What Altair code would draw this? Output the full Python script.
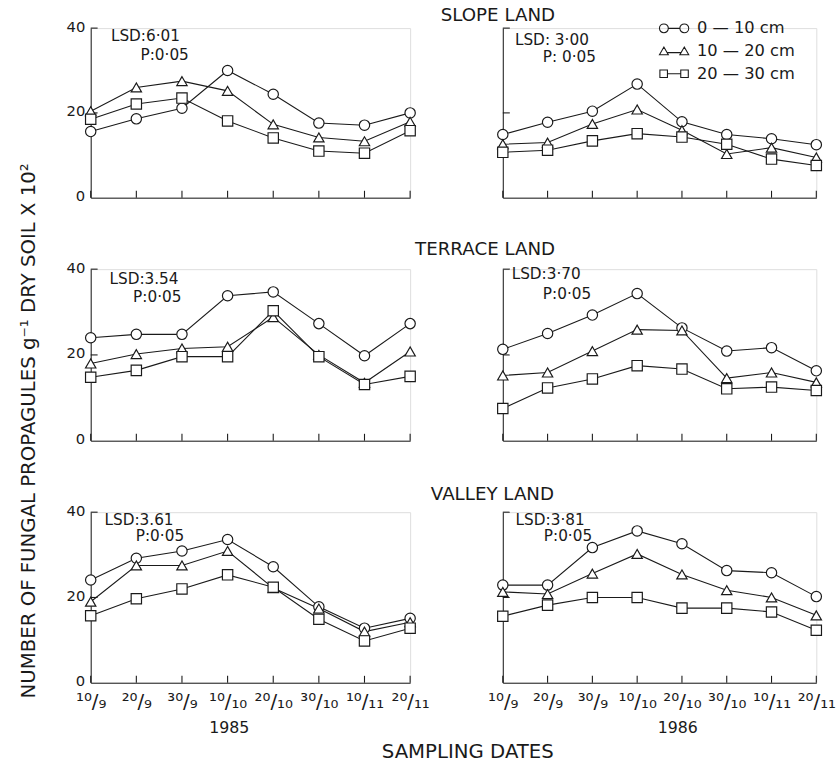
import altair as alt
import pandas as pd

# ---------------- data ----------------
dates = ["10/9", "20/9", "30/9", "10/10", "20/10", "30/10", "10/11", "20/11"]
date_labels = ["¹⁰/₉", "²⁰/₉", "³⁰/₉", "¹⁰/₁₀", "²⁰/₁₀", "³⁰/₁₀", "¹⁰/₁₁", "²⁰/₁₁"]
depths = ["0 — 10 cm", "10 — 20 cm", "20 — 30 cm"]
y_tick_values = [0, 20, 40]
inner_tick_values = [20, 40]

slope85_0_10 = [15.6, 18.6, 21.1, 30.0, 24.4, 17.6, 17.1, 20.0]
slope85_10_20 = [20.4, 26.0, 27.5, 25.2, 17.3, 14.2, 13.3, 17.9]
slope85_20_30 = [18.5, 22.1, 23.5, 18.1, 14.1, 11.0, 10.5, 15.8]
slope86_0_10 = [14.9, 17.8, 20.4, 26.8, 17.9, 14.9, 13.9, 12.5]
slope86_10_20 = [12.6, 13.0, 17.4, 20.8, 15.9, 10.3, 11.8, 9.5]
slope86_20_30 = [10.7, 11.2, 13.4, 15.1, 14.3, 12.6, 9.1, 7.6]
terrace85_0_10 = [24.0, 24.8, 24.8, 33.8, 34.7, 27.3, 19.8, 27.3]
terrace85_10_20 = [18.0, 20.2, 21.5, 21.9, 28.8, 20.0, 13.5, 20.8]
terrace85_20_30 = [14.8, 16.4, 19.6, 19.6, 30.3, 19.6, 13.1, 15.0]
terrace86_0_10 = [21.3, 25.0, 29.3, 34.3, 26.3, 20.9, 21.7, 16.3]
terrace86_10_20 = [15.2, 15.9, 20.9, 25.9, 25.7, 14.6, 15.9, 13.6]
terrace86_20_30 = [7.5, 12.3, 14.4, 17.5, 16.7, 12.1, 12.5, 11.7]
valley85_0_10 = [24.1, 29.2, 30.9, 33.6, 27.2, 17.8, 12.8, 15.1]
valley85_10_20 = [19.0, 27.5, 27.5, 30.9, 22.2, 17.4, 12.0, 14.2]
valley85_20_30 = [15.7, 19.7, 22.0, 25.3, 22.4, 14.9, 9.8, 12.8]
valley86_0_10 = [22.9, 22.9, 31.7, 35.6, 32.6, 26.3, 25.8, 20.2]
valley86_10_20 = [21.3, 20.8, 25.6, 30.2, 25.4, 21.7, 20.0, 15.8]
valley86_20_30 = [15.6, 18.2, 20.0, 20.0, 17.5, 17.5, 16.6, 12.3]

land_titles = ["SLOPE LAND", "TERRACE LAND", "VALLEY LAND"]
years = ["1985", "1986"]
lsd_texts = ["LSD:6·01", "LSD: 3·00", "LSD:3.54", "LSD:3·70", "LSD:3.61", "LSD:3·81"]
p_texts = ["P:0·05", "P: 0·05", "P:0·05", "P:0·05", "P:0·05", "P:0·05"]
y_title = "NUMBER OF FUNGAL PROPAGULES g⁻¹ DRY SOIL X 10²"
x_title = "SAMPLING DATES"

panel_series = [
    [slope85_0_10, slope85_10_20, slope85_20_30],
    [slope86_0_10, slope86_10_20, slope86_20_30],
    [terrace85_0_10, terrace85_10_20, terrace85_20_30],
    [terrace86_0_10, terrace86_10_20, terrace86_20_30],
    [valley85_0_10, valley85_10_20, valley85_20_30],
    [valley86_0_10, valley86_10_20, valley86_20_30],
]

# ---------------- styling / layout ----------------
FONT = "DejaVu Sans"
INK = "#1a1a1a"
widths = [324, 318]
heights = [172, 174, 173]
lsd_offsets = [
    (20.5, 8.3, 50.5, 27.5),
    (12.3, 12.5, 40.6, 29.5),
    (19.0, 10.0, 43.0, 28.5),
    (9.0, 5.0, 40.6, 25.0),
    (14.0, 7.5, 45.7, 24.5),
    (13.0, 7.5, 41.6, 24.5),
]
land_offsets = [(-63.0, -13.0), (-89.0, -20.5), (-73.0, -18.8)]

legend_paths = [
    "M-3.3,0A1,1,0,1,0,-1.3,0A1,1,0,1,0,-3.3,0M-1.3,0L1.3,0M1.3,0A1,1,0,1,0,3.3,0A1,1,0,1,0,1.3,0",
    "M-3.3,0.85L-2.3,-0.9L-1.3,0.85ZM-1.55,0.35L1.55,0.35M1.3,0.85L2.3,-0.9L3.3,0.85Z",
    "M-3.2,-0.85H-1.5V0.85H-3.2ZM-1.5,0L1.5,0M1.5,-0.85H3.2V0.85H1.5Z",
]

label_expr = "[{}][indexof([{}], datum.value)]".format(
    ",".join("'" + s + "'" for s in date_labels),
    ",".join("'" + s + "'" for s in dates),
)


def text_layer(text, xd, yd, dx, dy, size, align="left"):
    return alt.Chart(pd.DataFrame({"t": [text]})).mark_text(
        align=align, baseline="middle", dx=dx, dy=dy, fontSize=size,
        font=FONT, fontWeight="normal", color=INK,
    ).encode(x=alt.datum(xd), y=alt.datum(yd), text="t:N")


def make_cell(idx):
    row, col = divmod(idx, 2)
    w, h = widths[col], heights[row]
    series = panel_series[idx]
    df = pd.DataFrame({
        "date": dates * 3,
        "depth": [d for d in depths for _ in dates],
        "value": series[0] + series[1] + series[2],
    })
    bottom = row == 2

    x_axis_kw = dict(labels=bottom, ticks=False, domain=True, domainColor=INK,
                     grid=False, labelAngle=0, labelPadding=9, labelFontSize=20,
                     labelExpr=label_expr, labelColor=INK, labelFont=FONT,
                     labelFontWeight="normal")
    if bottom:
        x_axis_kw.update(title=years[col], titleX=140 if col == 0 else 177,
                         titleY=45, titleBaseline="middle", titleAlign="center",
                         titleFontSize=16, titleFont=FONT,
                         titleFontWeight="normal", titleColor=INK)
    else:
        x_axis_kw.update(title=None)
    x_enc = alt.X("date:N", sort=dates,
                  scale=alt.Scale(type="point", domain=dates, padding=0),
                  axis=alt.Axis(**x_axis_kw))

    y_axis_kw = dict(values=y_tick_values, labels=(col == 0), ticks=False,
                     domain=True, domainColor=INK, grid=False, labelPadding=6,
                     labelOffset=-2, labelFontSize=15, labelColor=INK,
                     labelFont=FONT, labelFontWeight="normal")
    if idx == 2:
        y_axis_kw.update(title=y_title, titleX=-63, titleY=163.5, titleAngle=270,
                         titleBaseline="middle", titleAlign="center",
                         titleFontSize=20, titleFont=FONT,
                         titleFontWeight="normal", titleColor=INK)
    else:
        y_axis_kw.update(title=None)
    y_enc = alt.Y("value:Q", scale=alt.Scale(domain=[0, 40], nice=False),
                  axis=alt.Axis(**y_axis_kw))

    base = alt.Chart(df)
    lines = base.mark_line(color=INK, strokeWidth=1.1).encode(
        x=x_enc, y=y_enc, detail="depth:N")
    pts = base.mark_point(filled=True, fill="white", stroke=INK, strokeWidth=1.2,
                          size=110, opacity=1).encode(
        x=x_enc, y=y_enc,
        shape=alt.Shape("depth:N",
                        scale=alt.Scale(domain=depths,
                                        range=["circle", "triangle-up", "square"]),
                        legend=None))
    xt = alt.Chart(pd.DataFrame({"date": dates})).mark_rule(
        color=INK, strokeWidth=1.1).encode(
        x=x_enc, y=alt.value(h), y2=alt.value(h - 7))
    yt = alt.Chart(pd.DataFrame({"value": inner_tick_values})).mark_rule(
        color=INK, strokeWidth=1.1).encode(
        y=y_enc, x=alt.value(0), x2=alt.value(7))

    dx1, dy1, dx2, dy2 = lsd_offsets[idx]
    layers = [lines, xt, yt, pts,
              text_layer(lsd_texts[idx], dates[0], 40, dx1, dy1, 15.5),
              text_layer(p_texts[idx], dates[0], 40, dx2, dy2, 15.5)]
    if col == 1:
        ldx, ldy = land_offsets[row]
        layers.append(text_layer(land_titles[row], dates[0], 40, ldx, ldy, 18.5))
    if idx == 4:
        layers.append(text_layer(x_title, dates[-1], 0, 58.5, 70, 20, align="center"))
    if idx == 1:
        leg = base.transform_filter("false").mark_point(
            filled=False, color=INK, strokeWidth=1.1, size=81
        ).encode(
            x=x_enc, y=y_enc,
            shape=alt.Shape("depth:N",
                            scale=alt.Scale(domain=depths, range=legend_paths),
                            legend=alt.Legend(
                                title=None, orient="none", legendX=165.5,
                                legendY=-8, padding=0, labelFontSize=16.5,
                                labelFont=FONT, labelFontWeight="normal",
                                labelColor=INK, labelOffset=15, rowPadding=6,
                                symbolSize=81, symbolStrokeWidth=1.1,
                                symbolStrokeColor=INK, symbolOpacity=1)))
        layers.append(leg)
    return alt.layer(*layers).resolve_scale(shape="independent").properties(
        width=w, height=h)


cells = [make_cell(i) for i in range(6)]
chart = alt.concat(
    *cells, columns=2, spacing={"row": 72.5, "column": 94}, bounds="flush"
).resolve_scale(shape="independent").properties(
    padding={"left": 18, "top": 0, "right": 2, "bottom": 2}
).configure_view(stroke=None).configure(background="white")

chart.save("out.html", embed_options={"renderer": "svg", "actions": False})
